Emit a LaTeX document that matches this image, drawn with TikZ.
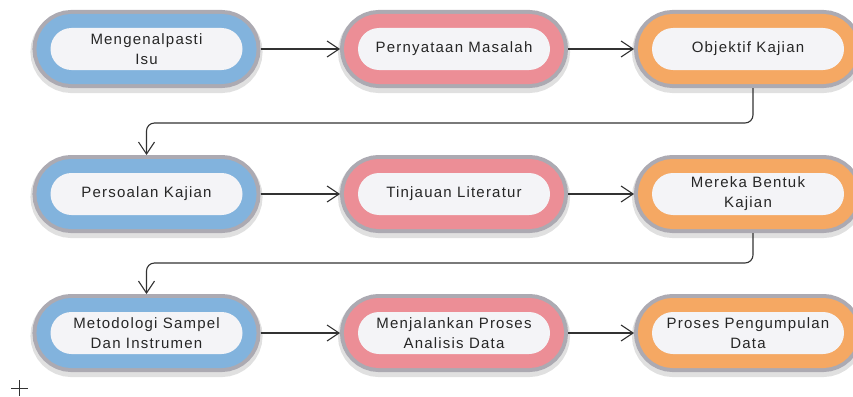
\documentclass[tikz,border=0pt]{standalone}
\usepackage{fontspec}
\newfontfamily\pillfont{Liberation Sans}[LetterSpace=8]
\usetikzlibrary{arrows.meta}
\definecolor{rimgray}{RGB}{172,170,178}
\definecolor{bandblue}{RGB}{130,179,221}
\definecolor{bandred}{RGB}{236,142,150}
\definecolor{bandorange}{RGB}{245,168,99}
\definecolor{pillwhite}{RGB}{244,244,247}
\definecolor{linegray}{RGB}{50,50,50}

\begin{document}
\begin{tikzpicture}[x=1pt,y=-1pt]
\tikzstyle{pill}=[rectangle,rounded corners=21pt,minimum width=192pt,minimum height=42pt,
  inner sep=0pt,outer sep=18pt,fill=pillwhite,text=black!85,align=center,
  font=\pillfont\fontsize{15}{20}\selectfont,
  preaction={draw=black,opacity=.12,line width=40pt,transform canvas={yshift=-3pt}},
  preaction={draw=rimgray,line width=36pt}]
\tikzstyle{bluepill}=[pill,preaction={draw=bandblue,line width=28pt}]
\tikzstyle{redpill}=[pill,preaction={draw=bandred,line width=28pt}]
\tikzstyle{orangepill}=[pill,preaction={draw=bandorange,line width=28pt}]
\tikzstyle{conn}=[draw=linegray,line width=1.1pt,-{Straight Barb[length=12pt,width=16pt]}]
\useasboundingbox (0,0) rectangle (853,396);

\node[bluepill] at (146.5,49) (iss) {Mengenalpasti\\Isu};
\node[redpill] at (454,49) (mas) {Pernyataan Masalah};
\node[orangepill] at (748,49) (obj) {Objektif Kajian};
\node[bluepill] at (146.5,194) (soa) {Persoalan Kajian};
\node[redpill] at (454,194) (lit) {Tinjauan Literatur};
\node[orangepill] at (748,194) (ben) {Mereka Bentuk\\Kajian};
\node[bluepill] at (146.5,333) (met) {Metodologi Sampel\\Dan Instrumen};
\node[redpill] at (454,333) (ana) {Menjalankan Proses\\Analisis Data};
\node[orangepill] at (748,333) (kum) {Proses Pengumpulan\\Data};

\coordinate (turn1) at (753,123);
\coordinate (turn2) at (753,263);

\draw[conn] (iss) -- (mas);
\draw[conn] (mas) -- (obj);
\draw[conn,rounded corners=8pt] (turn1 |- obj.south) -- (turn1) -- (turn1 -| soa.north) -- (soa.north);
\draw[conn] (soa) -- (lit);
\draw[conn] (lit) -- (ben);
\draw[conn,rounded corners=8pt] (turn2 |- ben.south) -- (turn2) -- (turn2 -| met.north) -- (met.north);
\draw[conn] (met) -- (ana);
\draw[conn] (ana) -- (kum);

% stray mark, bottom left
\draw[linegray,line width=0.8pt] (11,388) -- (28,388) (19.5,380) -- (19.5,396);
\end{tikzpicture}
\end{document}
